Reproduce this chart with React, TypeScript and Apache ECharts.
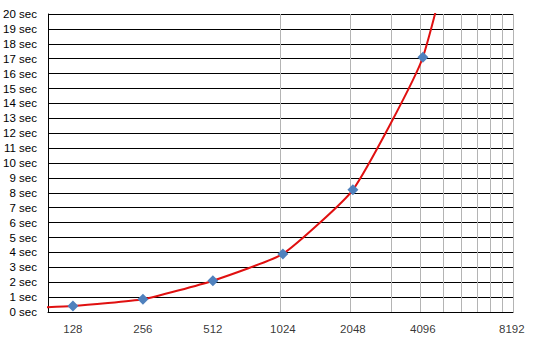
import React, { useEffect, useRef } from "react";
import * as echarts from "echarts";

const sizes = [64, 128, 256, 512, 1024, 2048, 4096, 8192];
const seconds = [0.2, 0.4, 0.85, 2.1, 3.9, 8.2, 17.1, 36];
const visibleMarker = [false, true, true, true, true, true, true, false];
const xTickLabels = [128, 256, 512, 1024, 2048, 4096, 8192];
const xGridValues = [1000, 2000, 3000, 4000, 5000, 6000, 7000, 8000, 9000, 10000];

const FONT = "'Liberation Sans', Arial, sans-serif";

export default function App() {
  const ref = useRef<HTMLDivElement>(null);
  useEffect(() => {
    if (!ref.current) return;
    const chart = echarts.init(ref.current, null, { renderer: "svg" });
    chart.setOption({
      animation: false,
      backgroundColor: "#ffffff",
      grid: { left: 48, right: 33, top: 14, bottom: 50, containLabel: false },
      xAxis: {
        type: "log",
        logBase: 10,
        min: 100,
        max: 10000,
        axisLine: { show: true, lineStyle: { color: "#000", width: 1 } },
        axisTick: { show: false },
        axisLabel: { show: false },
        splitLine: { show: false },
      },
      yAxis: {
        type: "value",
        min: 0,
        max: 20,
        interval: 1,
        axisLine: { show: true, lineStyle: { color: "#000", width: 1 } },
        axisTick: { show: false },
        axisLabel: {
          formatter: "{value} sec",
          color: "#000",
          fontSize: 11.5,
          fontFamily: FONT,
          margin: 11,
        },
        splitLine: { show: true, lineStyle: { color: "#000", width: 1 } },
      },
      series: [
        {
          type: "line",
          smooth: 0.15,
          data: sizes.map((s, i) =>
            visibleMarker[i]
              ? [s, seconds[i]]
              : { value: [s, seconds[i]], symbol: "none" }
          ),
          symbol: "diamond",
          symbolSize: 11,
          itemStyle: { color: "#4f81bd" },
          lineStyle: { color: "#e01010", width: 2 },
          z: 5,
          markLine: {
            silent: true,
            symbol: "none",
            label: { show: false },
            lineStyle: { color: "#b4b4b4", width: 1, type: "solid" },
            data: xGridValues.map((v) => ({ xAxis: v })),
            z: 1,
          },
        },
        {
          type: "scatter",
          symbolSize: 0,
          silent: true,
          data: xTickLabels.map((v, i) => ({
            value: [v, 0],
            label: i === xTickLabels.length - 1 ? { offset: [19, 0] } : undefined,
          })),
          label: {
            show: true,
            position: "bottom",
            distance: 11,
            formatter: (p: any) => String(p.value[0]),
            color: "#000",
            fontSize: 11.5,
            fontFamily: FONT,
          },
        },
      ],
    });
    return () => chart.dispose();
  }, []);
  return (
    <div
      ref={ref}
      style={{ position: "fixed", left: 0, top: 0, width: 546, height: 362, background: "#fff" }}
    />
  );
}
